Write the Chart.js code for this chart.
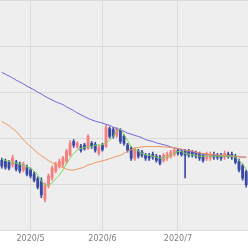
<!DOCTYPE html>
<html>
<head>
<meta charset="utf-8">
<script src="https://cdn.jsdelivr.net/npm/chart.js@4.4.1/dist/chart.umd.min.js"></script>
<style>
  html, body { margin: 0; padding: 0; background: #ffffff; }
  #wrap { width: 248px; height: 248px; }
</style>
</head>
<body>
<div id="wrap"><canvas id="price-chart"></canvas></div>
<script>
// daily candles, oldest first
var opens  = [1152,1150,1148,1142,1148,1144,1131,1137,1131,1122,1112,1107,1067,1097,1114,1129,1140,1142,1150,1163,
              1193,1182,1182,1185,1178,1189,1187,1167,1185,1182,1221,1219,1206,1217,1204,1185,1178,1157,1172,1170,
              1163,1163,1165,1161,1159,1152,1157,1161,1165,1174,1172,1172,1172,1170,1167,1165,1163,1157,1157,1165,
              1163,1163,1159,1165,1165,1161,1150,1140,1127];
var highs  = [1157,1155,1152,1163,1152,1148,1148,1142,1135,1127,1116,1114,1103,1122,1140,1148,1155,1161,1176,1195,
              1197,1193,1187,1189,1208,1193,1191,1185,1189,1228,1225,1223,1223,1221,1208,1189,1182,1180,1176,1174,
              1167,1167,1170,1165,1163,1167,1170,1174,1178,1178,1176,1176,1176,1174,1172,1170,1167,1170,1170,1170,
              1167,1167,1172,1170,1170,1165,1155,1144,1131];
var lows   = [1135,1133,1131,1137,1129,1125,1127,1118,1114,1105,1090,1071,1062,1092,1109,1125,1135,1137,1146,1161,
              1180,1178,1170,1174,1176,1178,1170,1163,1172,1180,1200,1200,1202,1189,1185,1170,1152,1152,1157,1159,
              1152,1152,1154,1148,1142,1148,1152,1157,1161,1163,1161,1114,1159,1159,1157,1152,1148,1152,1152,1154,
              1154,1152,1154,1157,1154,1144,1127,1109,1094];
var closes = [1140,1137,1135,1157,1133,1129,1144,1122,1118,1109,1094,1077,1097,1118,1135,1144,1150,1157,1172,1189,
              1185,1189,1174,1178,1204,1182,1174,1180,1176,1223,1204,1204,1219,1193,1189,1174,1157,1176,1161,1163,
              1157,1157,1159,1152,1146,1163,1165,1170,1174,1167,1165,1163,1163,1163,1161,1157,1152,1165,1165,1159,
              1159,1157,1167,1161,1159,1148,1131,1114,1099];

// moving averages
var maLong = [1343,1339,1335,1331,1326,1322,1318,1313,1309,1305,1300,1296,1291,1287,1283,1279,1276,1273,1268,1264,
              1260,1255,1251,1247,1243,1240,1237,1235,1233,1230,1228,1224,1221,1218,1215,1211,1209,1206,1204,1201,
              1197,1195,1193,1190,1188,1186,1184,1181,1179,1177,1176,1174,1172,1171,1168,1167,1166,1165,1164,1163,
              1163,1162,1162,1161,1161,1160,1160,1159,1159];
var maMid  = [1236,1232,1227,1221,1215,1206,1197,1189,1182,1175,1168,1162,1157,1151,1147,1143,1140,1136,1133,1131,
              1131,1133,1135,1138,1142,1144,1147,1149,1151,1153,1156,1158,1161,1163,1167,1172,1175,1178,1180,1181,
              1182,1182,1182,1182,1182,1181,1181,1180,1179,1178,1176,1174,1173,1172,1170,1168,1167,1166,1165,1165,
              1164,1163,1163,1162,1162,1161,1160,1159,1158];
var maShort = [1155,1152,1150,1148,1146,1144,1142,1138,1135,1129,1120,1107,1099,1099,1103,1112,1120,1131,1144,1157,
               1167,1174,1178,1180,1182,1182,1185,1185,1186,1191,1195,1204,1215,1219,1208,1195,1182,1176,1172,1167,
               1164,1163,1161,1159,1157,1157,1159,1163,1167,1171,1171,1167,1165,1164,1163,1161,1161,1161,1161,1161,
               1161,1161,1161,1161,1161,1159,1152,1144,1133];

// month starts (candle index) and their labels
var monthIdx    = [8, 28, 49];
var monthLabels = ['2020/5', '2020/6', '2020/7'];

var upColor   = '#f47f7f';
var downColor = '#3a4aa4';

var bodies = [], wicks = [], colors = [];
for (let i = 0; i < opens.length; i++)
{
    bodies.push({ x: i, y: [opens[i], closes[i]] });
    wicks.push({ x: i, y: [lows[i], highs[i]] });
    colors.push(closes[i] >= opens[i] ? upColor : downColor);
}
function line(arr) { return arr.map(function(v, i) { return { x: i, y: v }; }); }

// gray plot background
var plotBg = {
    id: 'plotBg',
    beforeDraw: function(chart)
    {
        var a = chart.chartArea, ctx = chart.ctx;
        ctx.save();
        ctx.fillStyle = '#eeeeee';
        ctx.fillRect(a.left, a.top, a.right - a.left, a.bottom - a.top);
        ctx.restore();
    }
};

var ctx = document.getElementById('price-chart').getContext('2d');
new Chart(ctx,
{
    type: 'bar',
    data: {
        datasets: [
            { type: 'line', data: line(maShort), borderColor: '#7fd655', borderWidth: 1, pointRadius: 0, tension: 0.3, order: 1 },
            { type: 'line', data: line(maMid),   borderColor: '#f09458', borderWidth: 1, pointRadius: 0, tension: 0.3, order: 1 },
            { type: 'line', data: line(maLong),  borderColor: '#6e62d8', borderWidth: 1, pointRadius: 0, tension: 0.3, order: 1 },
            { data: wicks,  backgroundColor: colors, barThickness: 1,   grouped: false, borderWidth: 0, order: 3 },
            { data: bodies, backgroundColor: colors, barThickness: 2.2, grouped: false, borderWidth: 0, order: 2 }
        ]
    },
    options: {
        responsive: true,
        maintainAspectRatio: false,
        animation: false,
        layout: { padding: 0 },
        plugins: { legend: { display: false }, tooltip: { enabled: false } },
        scales: {
            x: {
                type: 'linear',
                min: -0.5,
                max: opens.length - 0.5,
                offset: false,
                afterBuildTicks: function(scale) {
                    scale.ticks = monthIdx.map(function(v) { return { value: v }; });
                },
                grid: { color: '#dadada', drawTicks: false, offset: false },
                border: { color: '#dadada' },
                ticks: {
                    padding: 4,
                    color: '#808080',
                    font: { size: 8, family: 'DejaVu Sans' },
                    maxRotation: 0,
                    callback: function(v) {
                        var k = monthIdx.indexOf(v);
                        return k >= 0 ? monthLabels[k] : '';
                    }
                }
            },
            y: {
                min: 1000,
                max: 1500,
                ticks: { display: false, stepSize: 100 },
                grid: { color: '#dadada', drawTicks: false },
                border: { display: false }
            }
        }
    },
    plugins: [plotBg]
});
</script>
</body>
</html>
